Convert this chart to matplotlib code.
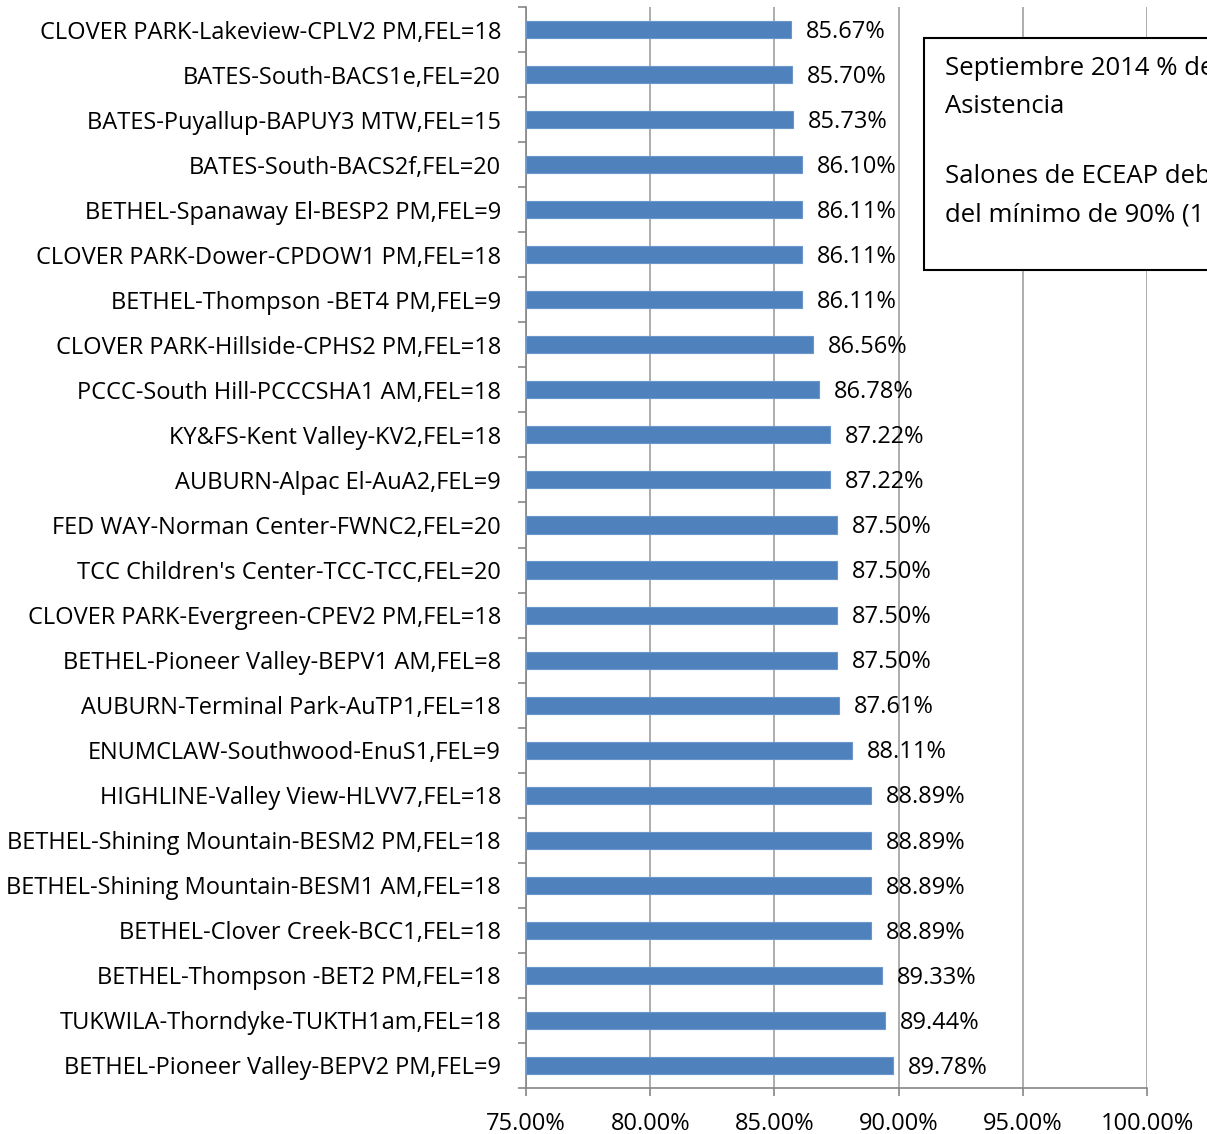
import numpy as np
import matplotlib
matplotlib.use("Agg")
import matplotlib.pyplot as plt
from matplotlib.patches import Rectangle
from matplotlib.ticker import FixedLocator, PercentFormatter

plt.rcParams['font.family'] = ['Open Sans', 'DejaVu Sans']

# categories top to bottom
classrooms = [
    "CLOVER PARK-Lakeview-CPLV2 PM,FEL=18",
    "BATES-South-BACS1e,FEL=20",
    "BATES-Puyallup-BAPUY3 MTW,FEL=15",
    "BATES-South-BACS2f,FEL=20",
    "BETHEL-Spanaway El-BESP2 PM,FEL=9",
    "CLOVER PARK-Dower-CPDOW1 PM,FEL=18",
    "BETHEL-Thompson -BET4 PM,FEL=9",
    "CLOVER PARK-Hillside-CPHS2 PM,FEL=18",
    "PCCC-South Hill-PCCCSHA1 AM,FEL=18",
    "KY&FS-Kent Valley-KV2,FEL=18",
    "AUBURN-Alpac El-AuA2,FEL=9",
    "FED WAY-Norman Center-FWNC2,FEL=20",
    "TCC Children's Center-TCC-TCC,FEL=20",
    "CLOVER PARK-Evergreen-CPEV2 PM,FEL=18",
    "BETHEL-Pioneer Valley-BEPV1 AM,FEL=8",
    "AUBURN-Terminal Park-AuTP1,FEL=18",
    "ENUMCLAW-Southwood-EnuS1,FEL=9",
    "HIGHLINE-Valley View-HLVV7,FEL=18",
    "BETHEL-Shining Mountain-BESM2 PM,FEL=18",
    "BETHEL-Shining Mountain-BESM1 AM,FEL=18",
    "BETHEL-Clover Creek-BCC1,FEL=18",
    "BETHEL-Thompson -BET2 PM,FEL=18",
    "TUKWILA-Thorndyke-TUKTH1am,FEL=18",
    "BETHEL-Pioneer Valley-BEPV2 PM,FEL=9",
]
attendance = [85.67, 85.70, 85.73, 86.10, 86.11, 86.11, 86.11, 86.56, 86.78,
              87.22, 87.22, 87.50, 87.50, 87.50, 87.50, 87.61, 88.11, 88.89,
              88.89, 88.89, 88.89, 89.33, 89.44, 89.78]
x_ticks = [75, 80, 85, 90, 95, 100]
box_title = "Septiembre 2014 % de\nAsistencia"
box_note = "Salones de ECEAP debajo\ndel mínimo de 90% (1 de 2)"

fig = plt.figure(figsize=(12.07, 11.34), dpi=100)
ax = fig.add_axes([526 / 1207, 46 / 1134, 621 / 1207, 1081 / 1134])

y = np.arange(len(classrooms))
ax.barh(y, np.array(attendance) - 75, left=75, height=0.38,
        color='#4F81BD', edgecolor='#6A96CC', linewidth=0.8, zorder=3)
for yi, v in zip(y, attendance):
    ax.text(v + 0.6, yi + 0.05, f"{v:.2f}%", va='center', ha='left',
            fontsize=17, color='black', zorder=4)

ax.set_xlim(75, 100)
ax.set_ylim(len(classrooms) - 0.5, -0.5)
ax.set_yticks(y)
ax.set_yticklabels(classrooms, fontsize=17)
ax.yaxis.set_minor_locator(FixedLocator(np.arange(-0.5, len(classrooms), 1)))
ax.tick_params(axis='y', which='major', length=0, pad=18)
ax.tick_params(axis='y', which='minor', length=6, color='#868686', width=1.2)
ax.set_xticks(x_ticks)
ax.xaxis.set_major_formatter(PercentFormatter(decimals=2))
ax.tick_params(axis='x', length=6, color='#868686', width=1.2, labelsize=17, pad=11)

ax.grid(axis='x', color='#A0A0A0', linewidth=1.2, zorder=0)
ax.set_axisbelow(True)
for s in ['top', 'right']:
    ax.spines[s].set_visible(False)
for s in ['left', 'bottom']:
    ax.spines[s].set_color('#868686')
    ax.spines[s].set_linewidth(1.2)

# text box, clipped by the figure edge like in the original
box = Rectangle((924 / 1207, 1 - 270 / 1134), 400 / 1207, 232 / 1134,
                transform=fig.transFigure, facecolor='white', edgecolor='black',
                linewidth=1.5, zorder=5)
fig.patches.append(box)
fig.text(945 / 1207, 1 - 56 / 1134, box_title, fontsize=18.5, va='top', ha='left',
         linespacing=1.7, zorder=6)
fig.text(945 / 1207, 1 - 164 / 1134, box_note, fontsize=18.5, va='top', ha='left',
         linespacing=1.7, zorder=6)

fig.savefig("out.png", dpi=100)
